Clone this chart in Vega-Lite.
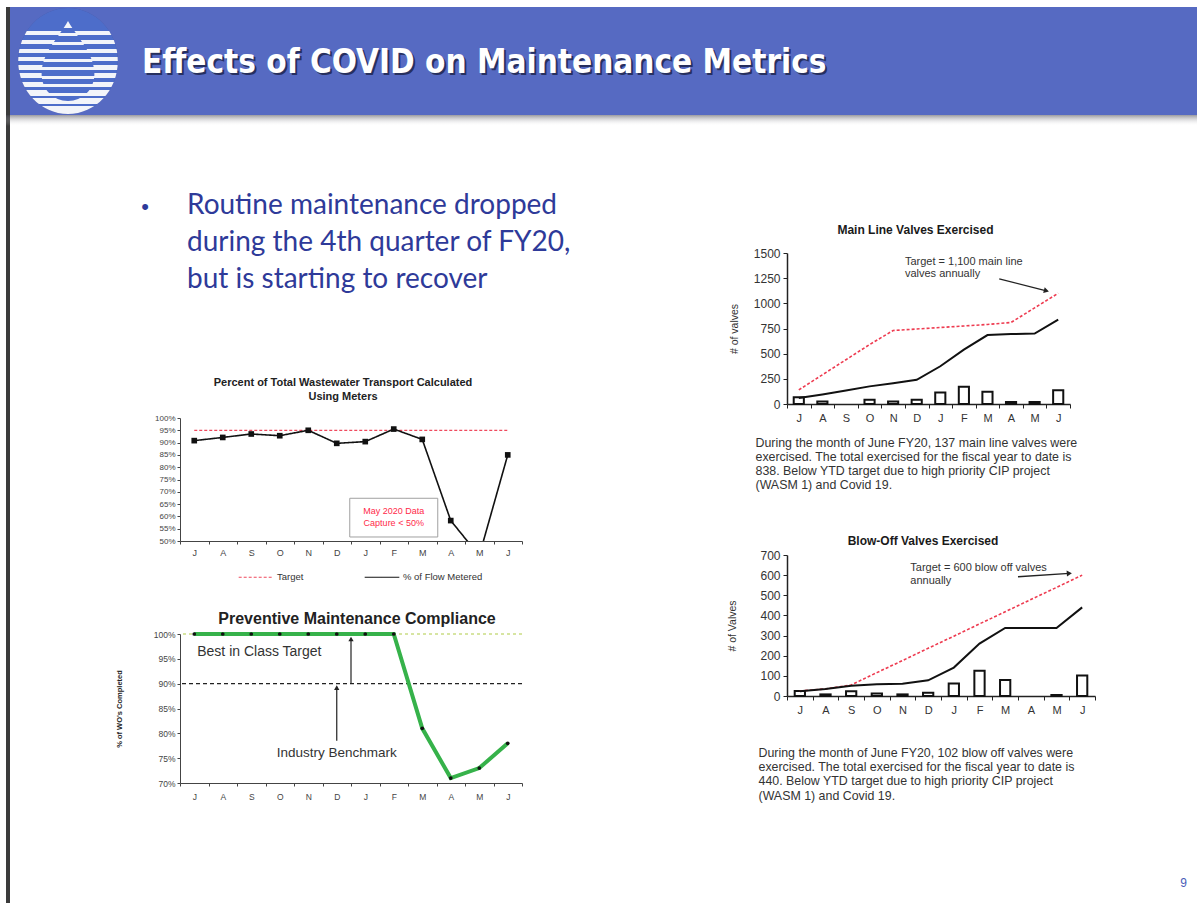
{
  "$schema": "https://vega.github.io/schema/vega-lite/v6.json",
  "background": "white",
  "padding": {"left": 6, "top": 7, "right": 0, "bottom": 0},
  "config": {
    "view": {"stroke": null},
    "font": "Liberation Sans",
    "axis": {"grid": false, "labelFont": "Liberation Sans", "titleFont": "Liberation Sans", "labelColor": "#333333", "titleColor": "#333333", "domainColor": "#333333", "tickColor": "#333333", "labelOverlap": false},
    "title": {"font": "Liberation Sans", "color": "#1a1a1a", "fontWeight": "bold"},
    "legend": {"labelFont": "Liberation Sans"}
  },
  "datasets": {
    "wastewater": [
      {"month": "Jul", "metered": 90.8, "target": 95},
      {"month": "Aug", "metered": 92.1, "target": 95},
      {"month": "Sep", "metered": 93.5, "target": 95},
      {"month": "Oct", "metered": 92.8, "target": 95},
      {"month": "Nov", "metered": 95.0, "target": 95},
      {"month": "Dec", "metered": 89.7, "target": 95},
      {"month": "Jan", "metered": 90.4, "target": 95},
      {"month": "Feb", "metered": 95.5, "target": 95},
      {"month": "Mar", "metered": 91.3, "target": 95},
      {"month": "Apr", "metered": 58.3, "target": 95},
      {"month": "May", "metered": 44.0, "target": 95},
      {"month": "Jun", "metered": 85.0, "target": 95}
    ],
    "pm": [
      {"month": "Jul", "compliance": 100},
      {"month": "Aug", "compliance": 100},
      {"month": "Sep", "compliance": 100},
      {"month": "Oct", "compliance": 100},
      {"month": "Nov", "compliance": 100},
      {"month": "Dec", "compliance": 100},
      {"month": "Jan", "compliance": 100},
      {"month": "Feb", "compliance": 100},
      {"month": "Mar", "compliance": 81},
      {"month": "Apr", "compliance": 71},
      {"month": "May", "compliance": 73},
      {"month": "Jun", "compliance": 78}
    ],
    "mainline": [
      {"month": "Jul", "monthly": 66, "cumulative": 60, "target": 140},
      {"month": "Aug", "monthly": 26, "cumulative": 95, "target": 290},
      {"month": "Sep", "monthly": null, "cumulative": 135, "target": 440},
      {"month": "Oct", "monthly": 43, "cumulative": 175, "target": 590},
      {"month": "Nov", "monthly": 26, "cumulative": 205, "target": 730},
      {"month": "Dec", "monthly": 43, "cumulative": 240, "target": 745},
      {"month": "Jan", "monthly": 115, "cumulative": 375, "target": 760},
      {"month": "Feb", "monthly": 172, "cumulative": 540, "target": 775},
      {"month": "Mar", "monthly": 122, "cumulative": 685, "target": 790},
      {"month": "Apr", "monthly": 20, "cumulative": 695, "target": 810},
      {"month": "May", "monthly": 20, "cumulative": 700, "target": 955},
      {"month": "Jun", "monthly": 137, "cumulative": 838, "target": 1100}
    ],
    "blowoff": [
      {"month": "Jul", "monthly": 25, "cumulative": 23, "target": 25},
      {"month": "Aug", "monthly": 8, "cumulative": 35, "target": 35},
      {"month": "Sep", "monthly": 23, "cumulative": 51, "target": 55},
      {"month": "Oct", "monthly": 12, "cumulative": 58, "target": 116},
      {"month": "Nov", "monthly": 8, "cumulative": 61, "target": 176},
      {"month": "Dec", "monthly": 16, "cumulative": 78, "target": 237},
      {"month": "Jan", "monthly": 62, "cumulative": 141, "target": 297},
      {"month": "Feb", "monthly": 125, "cumulative": 260, "target": 358},
      {"month": "Mar", "monthly": 80, "cumulative": 338, "target": 418},
      {"month": "Apr", "monthly": null, "cumulative": 338, "target": 479},
      {"month": "May", "monthly": 5, "cumulative": 338, "target": 539},
      {"month": "Jun", "monthly": 102, "cumulative": 440, "target": 600}
    ]
  },
  "bounds": "flush",
  "spacing": 170,
  "vconcat": [
    {
      "bounds": "flush",
      "spacing": 108,
      "vconcat": [
        {
          "bounds": "flush",
          "spacing": 0,
          "title": {"text": "Effects of COVID on Maintenance Metrics", "orient": "top", "anchor": "start", "frame": "group", "offset": -73, "dx": 136, "fontSize": 33, "font": "DejaVu Sans Condensed", "fontWeight": "bold", "color": "#ffffff"},
          "hconcat": [
            {"width": 4, "height": 896, "view": {"fill": "#3b3b3b", "stroke": null}, "data": {"values": []}, "mark": "point", "encoding": {}},
            {
              "width": 116, "height": 108,
              "view": {"fill": "#566ac2", "stroke": null},
              "data": {"values": [{}]},
              "layer": [
                {"mark": {"type": "point", "shape": "M0,-1A0.94,1,0,1,1,0,1A0.94,1,0,1,1,0,-1Z", "size": 11236, "filled": true, "fill": "#26346e", "opacity": 0.35, "strokeWidth": 0, "dx": 5, "dy": 4}, "encoding": {}},
                {"mark": {"type": "point", "shape": "M0,-1A0.94,1,0,1,1,0,1A0.94,1,0,1,1,0,-1Z", "size": 11236, "filled": true, "opacity": 1, "strokeWidth": 0,
                  "fill": {"gradient": "linear", "x1": 0, "y1": 0, "x2": 0, "y2": 1, "stops": [
                    {"offset": 0, "color": "#4d6dca"}, {"offset": 0.217, "color": "#4d6dca"}, {"offset": 0.217, "color": "#f2f4fa"}, {"offset": 0.255, "color": "#f2f4fa"}, {"offset": 0.255, "color": "#4d6dca"},
                    {"offset": 0.302, "color": "#4d6dca"}, {"offset": 0.302, "color": "#f2f4fa"}, {"offset": 0.34, "color": "#f2f4fa"}, {"offset": 0.34, "color": "#4d6dca"},
                    {"offset": 0.387, "color": "#4d6dca"}, {"offset": 0.387, "color": "#f2f4fa"}, {"offset": 0.425, "color": "#f2f4fa"}, {"offset": 0.425, "color": "#4d6dca"},
                    {"offset": 0.462, "color": "#4d6dca"}, {"offset": 0.462, "color": "#f2f4fa"}, {"offset": 0.5, "color": "#f2f4fa"}, {"offset": 0.5, "color": "#4d6dca"},
                    {"offset": 0.538, "color": "#4d6dca"}, {"offset": 0.538, "color": "#f2f4fa"}, {"offset": 0.585, "color": "#f2f4fa"}, {"offset": 0.585, "color": "#4d6dca"},
                    {"offset": 0.613, "color": "#4d6dca"}, {"offset": 0.613, "color": "#f2f4fa"}, {"offset": 0.66, "color": "#f2f4fa"}, {"offset": 0.66, "color": "#4d6dca"},
                    {"offset": 0.698, "color": "#4d6dca"}, {"offset": 0.698, "color": "#f2f4fa"}, {"offset": 0.745, "color": "#f2f4fa"}, {"offset": 0.745, "color": "#4d6dca"},
                    {"offset": 0.774, "color": "#4d6dca"}, {"offset": 0.774, "color": "#f2f4fa"}, {"offset": 0.83, "color": "#f2f4fa"}, {"offset": 0.83, "color": "#4d6dca"},
                    {"offset": 0.849, "color": "#4d6dca"}, {"offset": 0.849, "color": "#f2f4fa"}, {"offset": 0.906, "color": "#f2f4fa"}, {"offset": 0.906, "color": "#4d6dca"},
                    {"offset": 0.925, "color": "#4d6dca"}, {"offset": 0.925, "color": "#f2f4fa"}, {"offset": 1, "color": "#f2f4fa"}
                  ]}}, "encoding": {}},
                {"mark": {"type": "point", "shape": "M0,-1C0.22,-0.6,0.66,-0.2,0.66,0.32C0.66,0.72,0.36,1,0,1C-0.36,1,-0.66,0.72,-0.66,0.32C-0.66,-0.2,-0.22,-0.6,0,-1Z", "size": 6400, "filled": true, "opacity": 1, "strokeWidth": 0, "dy": 2,
                  "fill": {"gradient": "linear", "x1": 0, "y1": 0, "x2": 0, "y2": 1, "stops": [
                    {"offset": 0, "color": "#f2f4fa"}, {"offset": 0.09, "color": "#f2f4fa"}, {"offset": 0.09, "color": "#4d6dca"},
                    {"offset": 0.15, "color": "#4d6dca"}, {"offset": 0.15, "color": "#f2f4fa"}, {"offset": 0.19, "color": "#f2f4fa"}, {"offset": 0.19, "color": "#4d6dca"},
                    {"offset": 0.26, "color": "#4d6dca"}, {"offset": 0.26, "color": "#f2f4fa"}, {"offset": 0.3, "color": "#f2f4fa"}, {"offset": 0.3, "color": "#4d6dca"},
                    {"offset": 0.36, "color": "#4d6dca"}, {"offset": 0.36, "color": "#f2f4fa"}, {"offset": 0.4, "color": "#f2f4fa"}, {"offset": 0.4, "color": "#4d6dca"},
                    {"offset": 0.47, "color": "#4d6dca"}, {"offset": 0.47, "color": "#f2f4fa"}, {"offset": 0.51, "color": "#f2f4fa"}, {"offset": 0.51, "color": "#4d6dca"},
                    {"offset": 0.575, "color": "#4d6dca"}, {"offset": 0.575, "color": "#f2f4fa"}, {"offset": 0.61, "color": "#f2f4fa"}, {"offset": 0.61, "color": "#4d6dca"},
                    {"offset": 0.69, "color": "#4d6dca"}, {"offset": 0.69, "color": "#f2f4fa"}, {"offset": 0.725, "color": "#f2f4fa"}, {"offset": 0.725, "color": "#4d6dca"},
                    {"offset": 0.79, "color": "#4d6dca"}, {"offset": 0.79, "color": "#f2f4fa"}, {"offset": 0.825, "color": "#f2f4fa"}, {"offset": 0.825, "color": "#4d6dca"},
                    {"offset": 0.9, "color": "#4d6dca"}, {"offset": 0.9, "color": "#f2f4fa"}, {"offset": 0.94, "color": "#f2f4fa"}, {"offset": 0.94, "color": "#4d6dca"},
                    {"offset": 1, "color": "#4d6dca"}
                  ]}}, "encoding": {}}
              ]
            },
            {
              "width": 1071, "height": 108,
              "view": {"fill": "#566ac2", "stroke": null},
              "data": {"values": []}, "mark": "point", "encoding": {},
              "title": {"text": "Effects of COVID on Maintenance Metrics", "orient": "top", "anchor": "start", "frame": "group", "offset": -75, "dx": 18, "fontSize": 33, "font": "DejaVu Sans Condensed", "fontWeight": "bold", "color": "#27305f"}
            }
          ]
        },
        {
          "width": 1191, "height": 11,
          "view": {"stroke": null, "fill": {"gradient": "linear", "x1": 0, "y1": 0, "x2": 0, "y2": 1, "stops": [{"offset": 0, "color": "rgba(70,70,80,0.55)"}, {"offset": 1, "color": "rgba(255,255,255,0)"}]}},
          "data": {"values": []}, "mark": "point", "encoding": {}
        }
      ]
    },
    {
      "bounds": "flush",
      "spacing": 0,
      "hconcat": [
        {"width": 174, "height": 1, "data": {"values": []}, "mark": "point", "encoding": {}},
        {
          "bounds": "flush",
          "spacing": 607,
          "hconcat": [
            {
              "bounds": "flush",
              "spacing": 93,
              "vconcat": [
                {
                  "width": 14, "height": 148,
                  "data": {"values": [
                    {"line": 1, "text": "Routine maintenance dropped"},
                    {"line": 2, "text": "during the 4th quarter of FY20,"},
                    {"line": 3, "text": "but is starting to recover"}
                  ]},
                  "layer": [
                    {"mark": {"type": "text", "align": "left", "baseline": "alphabetic", "font": "Lato", "fontSize": 28, "color": "#2e3a99"},
                     "encoding": {"y": {"field": "line", "type": "ordinal", "axis": null, "scale": {"type": "point", "padding": 1.176}}, "text": {"field": "text"}}},
                    {"transform": [{"filter": "datum.line == 1"}],
                     "mark": {"type": "text", "align": "center", "baseline": "alphabetic", "font": "Liberation Sans", "fontSize": 22, "dx": -42, "color": "#2e3a99"},
                     "encoding": {"y": {"field": "line", "type": "ordinal", "axis": null}, "text": {"value": "•"}}}
                  ]
                },
                {
                  "width": 342, "height": 123,
                  "title": {"text": ["Percent of Total Wastewater Transport  Calculated", "Using Meters"], "fontSize": 11, "lineHeight": 14, "offset": 12, "frame": "group", "anchor": "middle", "dx": -8, "color": "#222222"},
                  "data": {"name": "wastewater"},
                  "layer": [
                    {
                      "mark": {"type": "line", "strokeWidth": 1.2},
                      "encoding": {
                        "x": {"field": "month", "type": "ordinal", "scale": {"type": "band", "domain": ["Jul","Aug","Sep","Oct","Nov","Dec","Jan","Feb","Mar","Apr","May","Jun"], "paddingInner": 0, "paddingOuter": 0},
                              "axis": {"title": null, "labelExpr": "isString(datum.value) ? substring(datum.value, 0, 1) : ''", "labelAngle": 0, "labelFontSize": 9, "labelPadding": 4, "tickSize": 3, "tickBand": "extent", "domainColor": "#444444", "tickColor": "#444444", "labelColor": "#444444"}},
                        "y": {"field": "target", "type": "quantitative", "title": null, "scale": {"domain": [50, 100]},
                              "axis": {"title": null, "values": [50,55,60,65,70,75,80,85,90,95,100], "tickCount": 30, "labelExpr": "datum.value + '%'", "labelFontSize": 8, "labelPadding": 2, "tickSize": 3, "labelOverlap": false, "domainColor": "#444444", "tickColor": "#444444", "labelColor": "#444444"}},
                        "color": {"datum": "Target", "type": "nominal", "scale": {"domain": ["Target", "% of Flow Metered"], "range": ["#ef4a5e", "#111111"]},
                                  "legend": {"orient": "none", "legendX": 232, "legendY": 552, "direction": "horizontal", "title": null, "symbolType": "stroke", "symbolSize": 1200, "symbolStrokeWidth": 1.2, "labelFontSize": 9.5, "labelColor": "#333333", "columnPadding": 58, "padding": 0, "labelOffset": 3}},
                        "strokeDash": {"datum": "Target", "type": "nominal", "scale": {"domain": ["Target", "% of Flow Metered"], "range": [[3, 2], [1, 0]]},
                                  "legend": {"orient": "none", "legendX": 232, "legendY": 552, "direction": "horizontal", "title": null, "symbolType": "stroke", "symbolSize": 1200, "symbolStrokeWidth": 1.2, "labelFontSize": 9.5, "labelColor": "#333333", "columnPadding": 58, "padding": 0, "labelOffset": 3}}
                      }
                    },
                    {
                      "mark": {"type": "line", "strokeWidth": 1.6, "clip": true},
                      "encoding": {
                        "x": {"field": "month", "type": "ordinal", "scale": {"type": "band", "domain": ["Jul","Aug","Sep","Oct","Nov","Dec","Jan","Feb","Mar","Apr","May","Jun"], "paddingInner": 0, "paddingOuter": 0}},
                        "y": {"field": "metered", "type": "quantitative", "title": null, "scale": {"domain": [50, 100]}},
                        "color": {"datum": "% of Flow Metered", "type": "nominal"},
                        "strokeDash": {"datum": "% of Flow Metered", "type": "nominal"}
                      }
                    },
                    {
                      "mark": {"type": "point", "shape": "square", "filled": true, "size": 32, "color": "#111111", "opacity": 1, "clip": true},
                      "encoding": {
                        "x": {"field": "month", "type": "ordinal", "scale": {"type": "band", "domain": ["Jul","Aug","Sep","Oct","Nov","Dec","Jan","Feb","Mar","Apr","May","Jun"], "paddingInner": 0, "paddingOuter": 0}},
                        "y": {"field": "metered", "type": "quantitative", "title": null, "scale": {"domain": [50, 100]}}
                      }
                    },
                    {
                      "data": {"values": [{}]},
                      "mark": {"type": "point", "shape": "M-1,-0.44L1,-0.44L1,0.44L-1,0.44Z", "size": 7744, "filled": true, "fill": "#ffffff", "stroke": "#a0a0a0", "strokeWidth": 1, "opacity": 1},
                      "encoding": {
                        "x": {"datum": "Feb", "type": "ordinal", "scale": {"type": "band", "domain": ["Jul","Aug","Sep","Oct","Nov","Dec","Jan","Feb","Mar","Apr","May","Jun"], "paddingInner": 0, "paddingOuter": 0}},
                        "y": {"datum": 59.5, "type": "quantitative", "title": null, "scale": {"domain": [50, 100]}}
                      }
                    },
                    {
                      "data": {"values": [{"note": "May 2020 Data\nCapture < 50%"}]},
                      "mark": {"type": "text", "lineBreak": "\n", "lineHeight": 12, "fontSize": 9, "color": "#ff2a4a", "baseline": "middle", "align": "center"},
                      "encoding": {
                        "x": {"datum": "Feb", "type": "ordinal", "scale": {"type": "band", "domain": ["Jul","Aug","Sep","Oct","Nov","Dec","Jan","Feb","Mar","Apr","May","Jun"], "paddingInner": 0, "paddingOuter": 0}},
                        "y": {"datum": 62.2, "type": "quantitative", "title": null, "scale": {"domain": [50, 100]}},
                        "text": {"field": "note"}
                      }
                    }
                  ]
                },
                {
                  "width": 342, "height": 149,
                  "title": {"text": "Preventive Maintenance Compliance", "fontSize": 16, "offset": -1, "frame": "group", "anchor": "middle", "dx": 6, "color": "#222222"},
                  "data": {"name": "pm"},
                  "layer": [
                    {
                      "data": {"values": [{}]},
                      "mark": {"type": "rule", "color": "#cadd84", "strokeDash": [3, 3], "strokeWidth": 1.5},
                      "encoding": {"y": {"datum": 100, "type": "quantitative", "title": "% of WO's Completed", "scale": {"domain": [70, 100]}}}
                    },
                    {
                      "data": {"values": [{}]},
                      "mark": {"type": "rule", "color": "#222222", "strokeDash": [4, 3], "strokeWidth": 1.2},
                      "encoding": {"y": {"datum": 90, "type": "quantitative", "title": "% of WO's Completed", "scale": {"domain": [70, 100]}}}
                    },
                    {
                      "mark": {"type": "line", "color": "#36b24a", "strokeWidth": 4},
                      "encoding": {
                        "x": {"field": "month", "type": "ordinal", "scale": {"type": "band", "domain": ["Jul","Aug","Sep","Oct","Nov","Dec","Jan","Feb","Mar","Apr","May","Jun"], "paddingInner": 0, "paddingOuter": 0},
                              "axis": {"title": null, "labelExpr": "isString(datum.value) ? substring(datum.value, 0, 1) : ''", "labelAngle": 0, "labelFontSize": 8.5, "labelPadding": 6, "tickSize": 3, "tickBand": "extent", "domainColor": "#444444", "tickColor": "#444444", "labelColor": "#444444"}},
                        "y": {"field": "compliance", "type": "quantitative", "title": "% of WO's Completed", "scale": {"domain": [70, 100]},
                              "axis": {"title": "% of WO's Completed", "values": [70,75,80,85,90,95,100], "tickCount": 30, "labelExpr": "datum.value + '%'", "labelFontSize": 8.5, "labelPadding": 2, "tickSize": 3, "labelOverlap": false, "titleFontSize": 7.5, "titleFontWeight": "bold", "titlePadding": 30, "titleColor": "#222222", "domainColor": "#444444", "tickColor": "#444444", "labelColor": "#444444"}}
                      }
                    },
                    {
                      "mark": {"type": "point", "filled": true, "size": 14, "color": "#111111", "opacity": 1},
                      "encoding": {
                        "x": {"field": "month", "type": "ordinal", "scale": {"type": "band", "domain": ["Jul","Aug","Sep","Oct","Nov","Dec","Jan","Feb","Mar","Apr","May","Jun"], "paddingInner": 0, "paddingOuter": 0}},
                        "y": {"field": "compliance", "type": "quantitative", "title": "% of WO's Completed", "scale": {"domain": [70, 100]}}
                      }
                    },
                    {
                      "data": {"values": [{"label": "Best in Class Target"}]},
                      "mark": {"type": "text", "align": "left", "baseline": "middle", "fontSize": 14, "dx": 3, "color": "#333333"},
                      "encoding": {
                        "x": {"datum": "Jul", "type": "ordinal", "scale": {"type": "band", "domain": ["Jul","Aug","Sep","Oct","Nov","Dec","Jan","Feb","Mar","Apr","May","Jun"], "paddingInner": 0, "paddingOuter": 0}},
                        "y": {"datum": 96.4, "type": "quantitative", "title": "% of WO's Completed", "scale": {"domain": [70, 100]}},
                        "text": {"field": "label"}
                      }
                    },
                    {
                      "data": {"values": [{"label": "Industry Benchmark"}]},
                      "mark": {"type": "text", "align": "center", "baseline": "middle", "fontSize": 13.5, "color": "#333333"},
                      "encoding": {
                        "x": {"datum": "Dec", "type": "ordinal", "scale": {"type": "band", "domain": ["Jul","Aug","Sep","Oct","Nov","Dec","Jan","Feb","Mar","Apr","May","Jun"], "paddingInner": 0, "paddingOuter": 0}},
                        "y": {"datum": 76, "type": "quantitative", "title": "% of WO's Completed", "scale": {"domain": [70, 100]}},
                        "text": {"field": "label"}
                      }
                    },
                    {
                      "data": {"values": [{}]},
                      "mark": {"type": "rule", "color": "#222222", "strokeWidth": 1.2},
                      "encoding": {
                        "x": {"datum": "Dec", "type": "ordinal", "bandPosition": 1, "scale": {"type": "band", "domain": ["Jul","Aug","Sep","Oct","Nov","Dec","Jan","Feb","Mar","Apr","May","Jun"], "paddingInner": 0, "paddingOuter": 0}},
                        "y": {"datum": 90, "type": "quantitative", "title": "% of WO's Completed", "scale": {"domain": [70, 100]}},
                        "y2": {"datum": 99.0}
                      }
                    },
                    {
                      "data": {"values": [{}]},
                      "mark": {"type": "point", "shape": "triangle-up", "filled": true, "size": 28, "color": "#222222", "opacity": 1},
                      "encoding": {
                        "x": {"datum": "Dec", "type": "ordinal", "bandPosition": 1, "scale": {"type": "band", "domain": ["Jul","Aug","Sep","Oct","Nov","Dec","Jan","Feb","Mar","Apr","May","Jun"], "paddingInner": 0, "paddingOuter": 0}},
                        "y": {"datum": 99.0, "type": "quantitative", "title": "% of WO's Completed", "scale": {"domain": [70, 100]}}
                      }
                    },
                    {
                      "data": {"values": [{}]},
                      "mark": {"type": "rule", "color": "#222222", "strokeWidth": 1.2},
                      "encoding": {
                        "x": {"datum": "Dec", "type": "ordinal", "scale": {"type": "band", "domain": ["Jul","Aug","Sep","Oct","Nov","Dec","Jan","Feb","Mar","Apr","May","Jun"], "paddingInner": 0, "paddingOuter": 0}},
                        "y": {"datum": 78.5, "type": "quantitative", "title": "% of WO's Completed", "scale": {"domain": [70, 100]}},
                        "y2": {"datum": 89.2}
                      }
                    },
                    {
                      "data": {"values": [{}]},
                      "mark": {"type": "point", "shape": "triangle-up", "filled": true, "size": 28, "color": "#222222", "opacity": 1},
                      "encoding": {
                        "x": {"datum": "Dec", "type": "ordinal", "scale": {"type": "band", "domain": ["Jul","Aug","Sep","Oct","Nov","Dec","Jan","Feb","Mar","Apr","May","Jun"], "paddingInner": 0, "paddingOuter": 0}},
                        "y": {"datum": 89.2, "type": "quantitative", "title": "% of WO's Completed", "scale": {"domain": [70, 100]}}
                      }
                    }
                  ]
                }
              ]
            },
            {
              "bounds": "flush",
              "spacing": 0,
              "vconcat": [
                {"width": 1, "height": 76, "data": {"values": []}, "mark": "point", "encoding": {}},
                {
                  "bounds": "flush",
                  "spacing": 151,
                  "vconcat": [
                    {
                      "width": 283, "height": 151,
                      "title": {"text": "Main Line Valves Exercised", "fontSize": 12, "offset": 10, "frame": "group", "anchor": "middle", "dx": -13, "color": "#1a1a1a"},
                      "data": {"name": "mainline"},
                      "layer": [
                        {
                          "mark": {"type": "bar", "fill": "#ffffff", "stroke": "#111111", "strokeWidth": 2, "width": {"band": 0.43}},
                          "encoding": {
                            "x": {"field": "month", "type": "ordinal", "scale": {"type": "band", "domain": ["Jul","Aug","Sep","Oct","Nov","Dec","Jan","Feb","Mar","Apr","May","Jun"], "paddingInner": 0, "paddingOuter": 0},
                                  "axis": {"title": ["During the month of June FY20, 137 main line valves were", "exercised. The total exercised for the fiscal year to date is", "838. Below YTD target due to high priority CIP project", "(WASM 1) and Covid 19."],
                                           "titleFontSize": 12.4, "titleFontWeight": "normal", "titleColor": "#333333", "titleAlign": "left", "titleAnchor": "start", "titleBaseline": "top", "titleX": -32, "titleY": 32, "titleLineHeight": 14,
                                           "labelExpr": "isString(datum.value) ? substring(datum.value, 0, 1) : ''", "labelAngle": 0, "labelFontSize": 11, "labelPadding": 4, "tickSize": 4, "tickBand": "extent", "domainColor": "#222222", "domainWidth": 1.5, "tickColor": "#222222"}},
                            "y": {"field": "monthly", "type": "quantitative", "title": "# of valves", "scale": {"domain": [0, 1500]},
                                  "axis": {"title": "# of valves", "values": [0, 250, 500, 750, 1000, 1250, 1500], "tickCount": 30, "format": "d", "labelOverlap": false, "labelFontSize": 12, "labelPadding": 3, "tickSize": 4, "titleFontSize": 10.5, "titleFontWeight": "normal", "titlePadding": 14, "domainColor": "#222222", "domainWidth": 1.5, "tickColor": "#222222"}}
                          }
                        },
                        {
                          "mark": {"type": "line", "color": "#ee3b50", "strokeDash": [3, 2], "strokeWidth": 1.6},
                          "encoding": {
                            "x": {"field": "month", "type": "ordinal", "scale": {"type": "band", "domain": ["Jul","Aug","Sep","Oct","Nov","Dec","Jan","Feb","Mar","Apr","May","Jun"], "paddingInner": 0, "paddingOuter": 0}},
                            "y": {"field": "target", "type": "quantitative", "title": "# of valves", "scale": {"domain": [0, 1500]}}
                          }
                        },
                        {
                          "mark": {"type": "line", "color": "#111111", "strokeWidth": 2},
                          "encoding": {
                            "x": {"field": "month", "type": "ordinal", "scale": {"type": "band", "domain": ["Jul","Aug","Sep","Oct","Nov","Dec","Jan","Feb","Mar","Apr","May","Jun"], "paddingInner": 0, "paddingOuter": 0}},
                            "y": {"field": "cumulative", "type": "quantitative", "title": "# of valves", "scale": {"domain": [0, 1500]}}
                          }
                        },
                        {
                          "data": {"values": [{"t": "Target = 1,100 main line\nvalves annually"}]},
                          "mark": {"type": "text", "align": "left", "baseline": "middle", "lineBreak": "\n", "lineHeight": 12, "fontSize": 11, "color": "#333333"},
                          "encoding": {
                            "x": {"datum": "Dec", "type": "ordinal", "bandPosition": 0, "scale": {"type": "band", "domain": ["Jul","Aug","Sep","Oct","Nov","Dec","Jan","Feb","Mar","Apr","May","Jun"], "paddingInner": 0, "paddingOuter": 0}},
                            "y": {"datum": 1410, "type": "quantitative", "title": "# of valves", "scale": {"domain": [0, 1500]}},
                            "text": {"field": "t"}
                          }
                        },
                        {
                          "data": {"values": [{}]},
                          "mark": {"type": "rule", "color": "#222222", "strokeWidth": 1.3},
                          "encoding": {
                            "x": {"datum": "Apr", "type": "ordinal", "bandPosition": 0, "scale": {"type": "band", "domain": ["Jul","Aug","Sep","Oct","Nov","Dec","Jan","Feb","Mar","Apr","May","Jun"], "paddingInner": 0, "paddingOuter": 0}},
                            "x2": {"datum": "May", "bandPosition": 1},
                            "y": {"datum": 1244, "type": "quantitative", "title": "# of valves", "scale": {"domain": [0, 1500]}},
                            "y2": {"datum": 1124}
                          }
                        },
                        {
                          "data": {"values": [{}]},
                          "mark": {"type": "point", "shape": "triangle-right", "angle": 15, "filled": true, "size": 35, "color": "#222222", "opacity": 1},
                          "encoding": {
                            "x": {"datum": "May", "type": "ordinal", "bandPosition": 1, "scale": {"type": "band", "domain": ["Jul","Aug","Sep","Oct","Nov","Dec","Jan","Feb","Mar","Apr","May","Jun"], "paddingInner": 0, "paddingOuter": 0}},
                            "y": {"datum": 1124, "type": "quantitative", "title": "# of valves", "scale": {"domain": [0, 1500]}}
                          }
                        }
                      ]
                    },
                    {
                      "width": 308, "height": 141,
                      "title": {"text": "Blow-Off Valves Exercised", "fontSize": 12, "offset": 1, "frame": "group", "anchor": "middle", "dx": -18, "color": "#1a1a1a"},
                      "data": {"name": "blowoff"},
                      "layer": [
                        {
                          "mark": {"type": "bar", "fill": "#ffffff", "stroke": "#111111", "strokeWidth": 2, "width": {"band": 0.4}},
                          "encoding": {
                            "x": {"field": "month", "type": "ordinal", "scale": {"type": "band", "domain": ["Jul","Aug","Sep","Oct","Nov","Dec","Jan","Feb","Mar","Apr","May","Jun"], "paddingInner": 0, "paddingOuter": 0},
                                  "axis": {"title": ["During the month of June FY20, 102 blow off valves were", "exercised.  The total exercised for the fiscal year to date is", "440.  Below YTD target due to high priority CIP project", "(WASM 1) and Covid 19."],
                                           "titleFontSize": 12.4, "titleFontWeight": "normal", "titleColor": "#333333", "titleAlign": "left", "titleAnchor": "start", "titleBaseline": "top", "titleX": -29, "titleY": 50, "titleLineHeight": 14.4,
                                           "labelExpr": "isString(datum.value) ? substring(datum.value, 0, 1) : ''", "labelAngle": 0, "labelFontSize": 11, "labelPadding": 4, "tickSize": 4, "tickBand": "extent", "domainColor": "#222222", "domainWidth": 1.5, "tickColor": "#222222"}},
                            "y": {"field": "monthly", "type": "quantitative", "title": "# of Valves", "scale": {"domain": [0, 700]},
                                  "axis": {"title": "# of Valves", "values": [0, 100, 200, 300, 400, 500, 600, 700], "tickCount": 30, "format": "d", "labelOverlap": false, "labelFontSize": 12, "labelPadding": 3, "tickSize": 4, "titleFontSize": 10.5, "titleFontWeight": "normal", "titlePadding": 22, "domainColor": "#222222", "domainWidth": 1.5, "tickColor": "#222222"}}
                          }
                        },
                        {
                          "mark": {"type": "line", "color": "#ee3b50", "strokeDash": [3, 2], "strokeWidth": 1.6},
                          "encoding": {
                            "x": {"field": "month", "type": "ordinal", "scale": {"type": "band", "domain": ["Jul","Aug","Sep","Oct","Nov","Dec","Jan","Feb","Mar","Apr","May","Jun"], "paddingInner": 0, "paddingOuter": 0}},
                            "y": {"field": "target", "type": "quantitative", "title": "# of Valves", "scale": {"domain": [0, 700]}}
                          }
                        },
                        {
                          "mark": {"type": "line", "color": "#111111", "strokeWidth": 2},
                          "encoding": {
                            "x": {"field": "month", "type": "ordinal", "scale": {"type": "band", "domain": ["Jul","Aug","Sep","Oct","Nov","Dec","Jan","Feb","Mar","Apr","May","Jun"], "paddingInner": 0, "paddingOuter": 0}},
                            "y": {"field": "cumulative", "type": "quantitative", "title": "# of Valves", "scale": {"domain": [0, 700]}}
                          }
                        },
                        {
                          "data": {"values": [{"t": "Target =  600 blow off valves\nannually"}]},
                          "mark": {"type": "text", "align": "left", "baseline": "middle", "lineBreak": "\n", "lineHeight": 13, "fontSize": 11, "dx": -5, "color": "#333333"},
                          "encoding": {
                            "x": {"datum": "Dec", "type": "ordinal", "bandPosition": 0, "scale": {"type": "band", "domain": ["Jul","Aug","Sep","Oct","Nov","Dec","Jan","Feb","Mar","Apr","May","Jun"], "paddingInner": 0, "paddingOuter": 0}},
                            "y": {"datum": 636, "type": "quantitative", "title": "# of Valves", "scale": {"domain": [0, 700]}},
                            "text": {"field": "t"}
                          }
                        },
                        {
                          "data": {"values": [{}]},
                          "mark": {"type": "rule", "color": "#222222", "strokeWidth": 1.3},
                          "encoding": {
                            "x": {"datum": "Apr", "type": "ordinal", "bandPosition": 0, "scale": {"type": "band", "domain": ["Jul","Aug","Sep","Oct","Nov","Dec","Jan","Feb","Mar","Apr","May","Jun"], "paddingInner": 0, "paddingOuter": 0}},
                            "x2": {"datum": "May", "bandPosition": 1},
                            "y": {"datum": 592, "type": "quantitative", "title": "# of Valves", "scale": {"domain": [0, 700]}},
                            "y2": {"datum": 609}
                          }
                        },
                        {
                          "data": {"values": [{}]},
                          "mark": {"type": "point", "shape": "triangle-right", "angle": -4, "filled": true, "size": 35, "color": "#222222", "opacity": 1},
                          "encoding": {
                            "x": {"datum": "May", "type": "ordinal", "bandPosition": 1, "scale": {"type": "band", "domain": ["Jul","Aug","Sep","Oct","Nov","Dec","Jan","Feb","Mar","Apr","May","Jun"], "paddingInner": 0, "paddingOuter": 0}},
                            "y": {"datum": 609, "type": "quantitative", "title": "# of Valves", "scale": {"domain": [0, 700]}}
                          }
                        }
                      ]
                    },
                    {
                      "width": 400, "height": 30,
                      "data": {"values": []}, "mark": "point", "encoding": {},
                      "title": {"text": "9", "orient": "bottom", "anchor": "end", "frame": "group", "offset": 1, "fontSize": 12, "fontWeight": "normal", "color": "#4a5cb8"}
                    }
                  ]
                }
              ]
            }
          ]
        }
      ]
    }
  ]
}
